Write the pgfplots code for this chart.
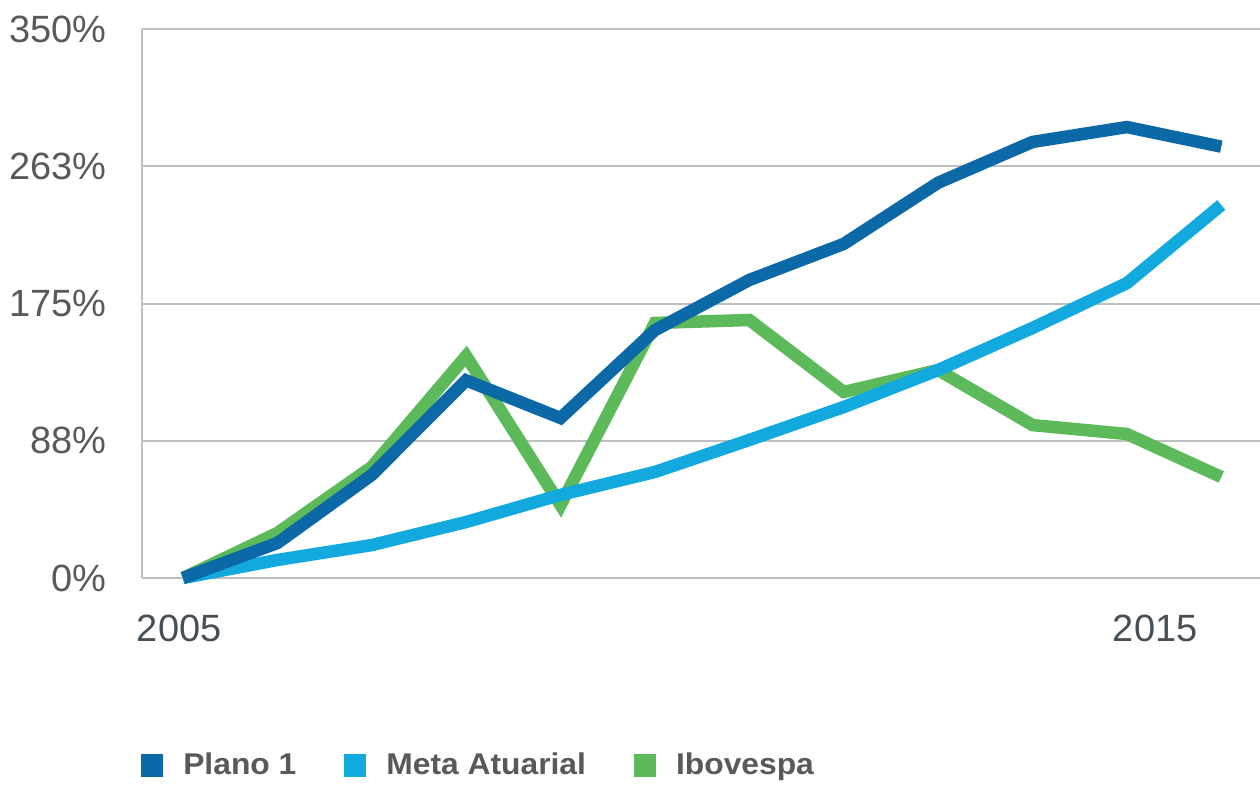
\documentclass[border=0pt]{standalone}
\usepackage{pgfplots}
\pgfplotsset{compat=1.18}
\usepackage{fontspec}
\setmainfont{Liberation Sans}
\newfontfamily\legfont[FakeStretch=1.06]{Liberation Sans}
\definecolor{cPlano}{HTML}{0C69A8}
\definecolor{cMeta}{HTML}{12A9DF}
\definecolor{cIbov}{HTML}{5CBA5A}
\definecolor{gridc}{HTML}{BFBFBF}
\definecolor{ytxt}{HTML}{595959}
\definecolor{xtxt}{HTML}{454F55}
\begin{document}
\begin{tikzpicture}
\path[use as bounding box] (0,0) rectangle (630pt,392pt);
\begin{axis}[
  at={(71pt,103pt)}, anchor=south west,
  width=559pt, height=274.5pt, scale only axis,
  xmin=-0.434, xmax=11.41, ymin=0, ymax=350,
  axis x line=bottom,
  axis y line=left,
  x axis line style={draw=none, -},
  y axis line style={draw=gridc, line width=1pt, -},
  ymajorgrids, grid style={draw=gridc, line width=1pt},
  major tick length=0pt,
  ytick={0,87.5,175,262.5,350},
  yticklabels={0\%,88\%,175\%,263\%,350\%},
  yticklabel style={font=\fontsize{19}{22}\selectfont, text=ytxt, anchor=east, inner sep=0pt, xshift=-17.5pt},
  xtick={-0.04,10.3},
  xticklabels={2005,2015},
  xticklabel style={font=\fontsize{19}{22}\selectfont, text=xtxt, anchor=center, inner sep=0pt, yshift=-25pt},
  clip=false,
  legend columns=3,
  legend style={at={(rel axis cs:-0.001,-0.3415)}, anchor=west, draw=none, fill=none, inner sep=0pt,
    font=\legfont\bfseries\fontsize{15}{17}\selectfont, text=ytxt,
    /tikz/every even column/.append style={column sep=24pt},
    nodes={inner sep=0pt, outer sep=0pt, text=ytxt}},
  legend image code/.code={\path[#1, fill, draw=none] (0pt,-5.75pt) rectangle (11pt,5.75pt);},
  every axis plot/.append style={line width=6.25pt, line join=miter, line cap=butt},
]
\addlegendimage{color=cPlano}\addlegendentry{\hspace{10pt}Plano 1}
\addlegendimage{color=cMeta}\addlegendentry{\hspace{10pt}Meta Atuarial}
\addlegendimage{color=cIbov}\addlegendentry{\hspace{10pt}Ibovespa}
\addplot[color=cIbov, forget plot] coordinates {
(0,0) (1,28.7) (2,70.8) (3,141.5) (4,46.5) (5,162.6) (6,164.5) (7,118.6) (8,132.6) (9,97.5) (10,91.8) (11,64.4)};
\addplot[color=cMeta, forget plot] coordinates {
(0,0) (1,11.5) (2,21) (3,35.7) (4,53) (5,67.6) (6,88) (7,109) (8,132.6) (9,159.4) (10,188) (11,237.8)};
\addplot[color=cPlano, forget plot] coordinates {
(0,0) (1,22.3) (2,65.7) (3,126) (4,102) (5,158) (6,190) (7,213) (8,252) (9,278) (10,287.5) (11,275)};
\end{axis}
\end{tikzpicture}
\end{document}
